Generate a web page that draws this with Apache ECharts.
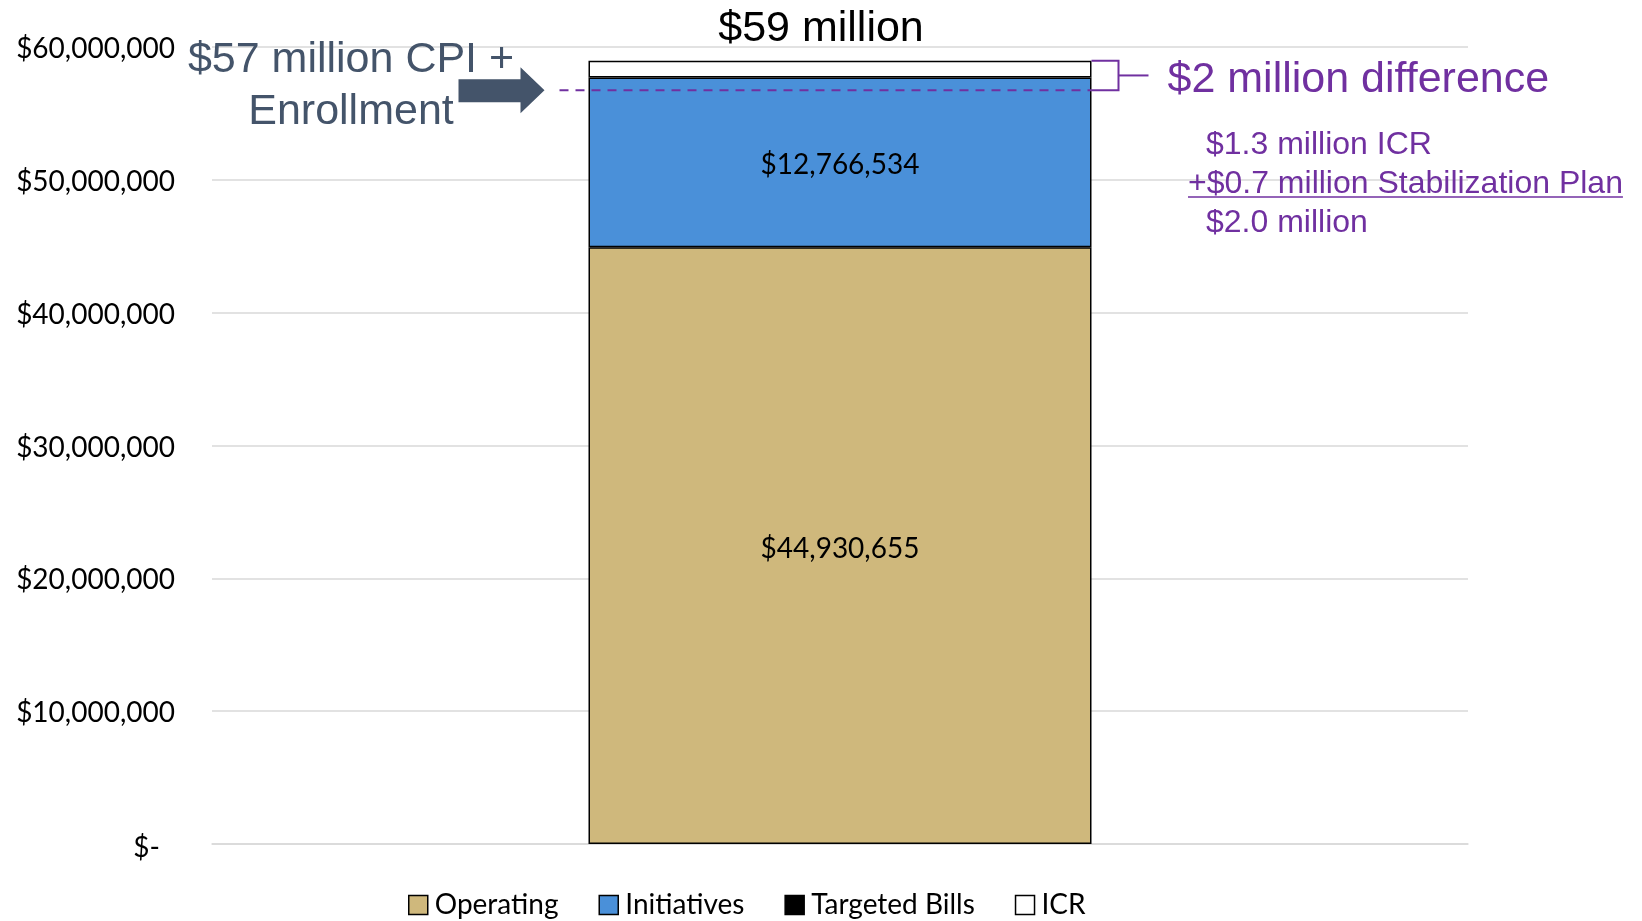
<!DOCTYPE html>
<html lang="en">
<head>
  <meta charset="UTF-8">
  <title>Budget stack</title>
  <script src="https://cdn.jsdelivr.net/npm/echarts@6/dist/echarts.min.js"></script>
  <style>
    html, body { margin: 0; padding: 0; background: #fff; }
  </style>
</head>
<body>
  <div id="main" style="width: 1642px; height: 921px;"></div>
  <script>
    // data
    var categories = ['Budget'];
    var operating = [44930655];
    var initiatives = [12766534];
    var targetedBills = [0];
    var icr = [1270000];
    var cpiEnrollment = 56750000;   // dashed line level
    var yMin = 0, yMax = 60000000, yStep = 10000000;

    var seriesNames = ['Operating', 'Initiatives', 'Targeted Bills', 'ICR'];
    var seriesColors = ['#CFB87C', '#4A90D9', '#000000', '#FFFFFF'];
    var seriesData = [operating, initiatives, targetedBills, icr];
    var labelled = [true, true, false, false];
    var borders = [1.5, 1.5, 0, 1.5];

    var PURPLE = '#7030A0';
    var SLATE = '#44546A';
    var SANS = '"Liberation Sans", Arial, sans-serif';
    var BODY = 'Lato, "Noto Sans", sans-serif';
    var BAR_W = 503;

    function money(v) {
      return '$' + Math.round(v).toLocaleString('en-US');
    }

    var myChart = echarts.init(document.getElementById('main'));

    myChart.setOption({
      animation: false,
      grid: { left: 212, right: 174, top: 47, bottom: 77 },
      legend: {
        left: 403,
        top: 886,
        itemWidth: 19,
        itemHeight: 19,
        itemGap: 40,
        icon: 'rect',
        itemStyle: { borderColor: '#000', borderWidth: 1.5 },
        textStyle: { fontFamily: BODY, fontSize: 28, color: '#000', padding: [0, 0, 0, 2] },
        data: seriesNames
      },
      xAxis: {
        type: 'category',
        data: categories,
        axisLine: { show: true, lineStyle: { color: '#D9D9D9', width: 1.5 } },
        axisTick: { show: false },
        axisLabel: { show: false }
      },
      yAxis: {
        type: 'value',
        min: yMin,
        max: yMax,
        interval: yStep,
        axisLine: { show: false },
        axisTick: { show: false },
        splitLine: { lineStyle: { color: '#D9D9D9', width: 1.5 } },
        axisLabel: {
          margin: 37,
          fontFamily: BODY,
          fontSize: 28,
          color: '#000',
          padding: [4, 0, 0, 0],
          formatter: function (v) {
            return v === 0 ? '{z|$-}' : money(v);
          },
          rich: {
            z: { fontFamily: BODY, fontSize: 28, color: '#000', padding: [4, 15, 0, 0] }
          }
        }
      },
      series: seriesNames.map(function (name, i) {
        return {
          name: name,
          type: 'bar',
          stack: 'total',
          barWidth: BAR_W,
          data: seriesData[i],
          itemStyle: { color: seriesColors[i], borderColor: '#000', borderWidth: borders[i] },
          label: {
            show: labelled[i],
            position: 'inside',
            offset: [0, 3],
            fontFamily: BODY,
            fontSize: 28,
            color: '#000',
            formatter: function (p) { return money(p.value); }
          }
        };
      })
    });

    // annotations placed from the axis scale
    function drawNotes() {
      var total = operating[0] + initiatives[0] + targetedBills[0] + icr[0];
      var yTop = myChart.convertToPixel({ yAxisIndex: 0 }, total);
      var yCpi = myChart.convertToPixel({ yAxisIndex: 0 }, cpiEnrollment);
      var xMid = myChart.convertToPixel({ xAxisIndex: 0 }, 0);
      var barL = xMid - BAR_W / 2;
      var barR = xMid + BAR_W / 2;
      var brX = barR + 27;
      var yBr = (yTop + yCpi) / 2;

      // measure the underlined line
      var ctx = document.createElement('canvas').getContext('2d');
      ctx.font = '32px ' + SANS;
      var line2 = '+$0.7 million Stabilization Plan';
      var w2 = ctx.measureText(line2).width;

      myChart.setOption({
        graphic: [
          {
            type: 'text',
            left: 'center',
            top: 8,
            style: { text: '$59 million', font: '43px ' + SANS, fill: '#000' },
            z: 10
          },
          {
            type: 'text',
            x: 351,
            y: yCpi - 56,
            style: {
              text: '$57 million CPI +\nEnrollment',
              font: '43px ' + SANS,
              fill: SLATE,
              align: 'center',
              verticalAlign: 'top',
              lineHeight: 52
            },
            z: 10
          },
          {
            type: 'polygon',
            shape: {
              points: [
                [barL - 130, yCpi - 11], [barL - 68, yCpi - 11], [barL - 68, yCpi - 23],
                [barL - 44, yCpi], [barL - 68, yCpi + 23], [barL - 68, yCpi + 12],
                [barL - 130, yCpi + 12]
              ]
            },
            style: { fill: SLATE },
            z: 10
          },
          {
            type: 'line',
            shape: { x1: barL - 29, y1: yCpi, x2: barR, y2: yCpi },
            style: { stroke: PURPLE, lineWidth: 2, lineDash: [9, 7] },
            z: 10
          },
          {
            type: 'polyline',
            shape: { points: [[barR, yTop], [brX, yTop], [brX, yCpi], [barR, yCpi]] },
            style: { stroke: PURPLE, lineWidth: 2, fill: null },
            z: 10
          },
          {
            type: 'line',
            shape: { x1: brX, y1: yBr, x2: brX + 30, y2: yBr },
            style: { stroke: PURPLE, lineWidth: 2 },
            z: 10
          },
          {
            type: 'text',
            x: brX + 49,
            y: yBr + 5,
            style: { text: '$2 million difference', font: '43px ' + SANS, fill: PURPLE, verticalAlign: 'middle' },
            z: 10
          },
          {
            type: 'text',
            x: 1206,
            y: 145,
            style: { text: '$1.3 million ICR', font: '32px ' + SANS, fill: PURPLE, verticalAlign: 'middle' },
            z: 10
          },
          {
            type: 'text',
            x: 1188,
            y: 184,
            style: { text: line2, font: '32px ' + SANS, fill: PURPLE, verticalAlign: 'middle' },
            z: 10
          },
          {
            type: 'line',
            shape: { x1: 1188, y1: 197, x2: 1188 + w2, y2: 197 },
            style: { stroke: PURPLE, lineWidth: 1.5 },
            z: 10
          },
          {
            type: 'text',
            x: 1206,
            y: 223,
            style: { text: '$2.0 million', font: '32px ' + SANS, fill: PURPLE, verticalAlign: 'middle' },
            z: 10
          }
        ]
      });
    }
    drawNotes();
  </script>
</body>
</html>
